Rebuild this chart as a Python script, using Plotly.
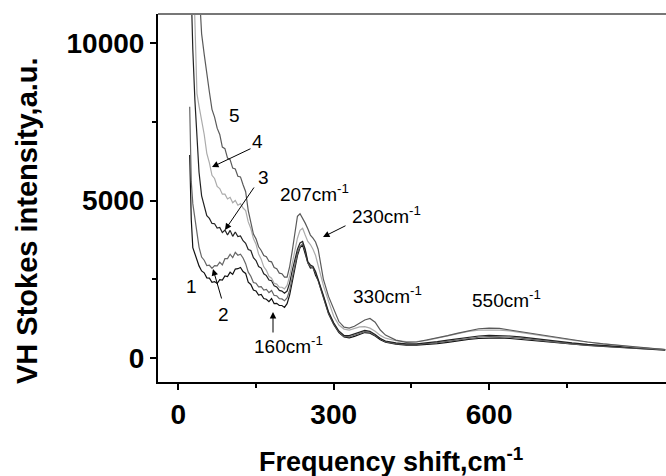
import plotly.graph_objects as go

# Raman shift grid (cm-1) shared by all spectra
shift = [22, 25, 28, 32, 36,
         40, 45, 50, 55, 60, 65, 70, 75, 80, 85, 90, 95, 100, 105, 110, 115, 120, 125, 130, 135, 140,
         145, 150, 155, 160, 165, 170, 175, 180, 185, 190, 195, 200, 205, 210, 215, 220, 225, 230,
         235, 240, 245, 250, 255, 260, 265, 270, 275, 280,
         290, 300, 310, 320, 330, 340, 350, 360, 370, 380, 390, 400,
         420, 440, 460, 480, 500, 520, 540, 560, 580, 600, 620, 640, 660, 680, 700,
         730, 760, 790, 820, 850, 880, 910, 940]

curve1 = [6450, 4400, 3500, 3280, 3100,
          2920, 2760, 2700, 2540, 2530, 2400, 2420, 2360, 2480, 2470, 2600, 2580, 2720, 2650, 2820, 2830, 2870, 2740, 2680, 2400, 2330,
          2150, 2120, 1990, 2010, 1880, 1860, 1780, 1880, 1720, 1730, 1660, 1660, 1600, 1720, 2000, 2450, 2900, 3250,
          3500, 3580, 3300, 3020, 2850, 2870, 2620, 2460, 2180, 1920,
          1400, 1060, 800, 660, 630, 680, 750, 800, 780, 690, 570, 490,
          430, 400, 400, 420, 450, 490, 540, 580, 610, 630, 630, 610, 580, 550, 510,
          460, 420, 390, 360, 330, 300, 270, 240]

curve2 = [7980, 5600, 4900, 4380, 3900,
          3520, 3200, 3100, 2930, 2940, 2840, 2930, 2920, 3040, 2950, 3150, 3150, 3290, 3180, 3350, 3260, 3290, 3170, 2990, 2720, 2590,
          2390, 2370, 2250, 2260, 2150, 2170, 2070, 2140, 1980, 1970, 1880, 1870, 1810, 1900, 2150, 2580, 3000, 3330,
          3540, 3620, 3400, 3020, 2900, 2860, 2700, 2470, 2230, 1950,
          1420, 1080, 820, 680, 660, 710, 780, 830, 810, 710, 590, 510,
          450, 420, 420, 440, 480, 520, 570, 610, 650, 670, 670, 650, 620, 580, 540,
          490, 440, 400, 370, 340, 305, 275, 245]

curve3 = [13500, 11500, 9800, 8200, 7000,
          5900, 5150, 4800, 4520, 4430, 4270, 4260, 4120, 4140, 3980, 4060, 3900, 4050, 3860, 4000, 3850, 3870, 3720, 3640, 3440, 3410,
          3180, 3090, 2900, 2850, 2670, 2610, 2470, 2450, 2290, 2250, 2140, 2120, 2050, 2120, 2380, 2780, 3150, 3450,
          3650, 3700, 3450, 3060, 2950, 2900, 2740, 2500, 2250, 1990,
          1460, 1110, 850, 710, 700, 760, 830, 870, 840, 740, 610, 530,
          470, 440, 440, 470, 510, 560, 610, 660, 690, 710, 710, 690, 660, 620, 580,
          520, 470, 425, 390, 350, 315, 285, 255]

curve4 = [16500, 14800, 13000, 10900, 8400,
          8000, 7550, 7100, 6500, 6200, 5800, 5700, 5450, 5380, 5200, 5200, 5050, 5100, 4930, 5000, 4850, 4900, 4760, 4680, 4320, 4110,
          3790, 3610, 3300, 3130, 2890, 2780, 2590, 2530, 2370, 2340, 2240, 2240, 2190, 2300, 2600, 3000, 3450, 3800,
          4050, 4120, 3900, 3700, 3600, 3450, 3250, 2950, 2620, 2300,
          1800, 1320, 1040, 910, 880, 930, 980, 990, 940, 840, 710, 620,
          540, 510, 510, 550, 620, 700, 780, 840, 880, 890, 880, 850, 800, 750, 700,
          630, 560, 500, 440, 390, 340, 300, 260]

curve5 = [22000, 20000, 18000, 16000, 14000,
          11800, 10300, 9650, 8950, 8450, 7900, 7650, 7300, 7100, 6700, 6650, 6350, 6300, 6030, 6000, 5770, 5750, 5500, 5280, 4680, 4320,
          3930, 3780, 3530, 3410, 3250, 3210, 3070, 3050, 2870, 2830, 2690, 2670, 2560, 2560, 2900, 3400, 4000, 4500,
          4580, 4450, 4280, 4100, 3900, 3800, 3680, 3450, 3000, 2500,
          1950, 1550, 1150, 970, 940, 1000, 1100, 1200, 1250, 1130, 880, 720,
          560, 490, 500, 560, 630, 700, 780, 860, 920, 940, 930, 880, 830, 780, 720,
          640, 570, 500, 440, 390, 340, 300, 260]

series = [curve1, curve2, curve3, curve4, curve5]
colors = ["#111111", "#666666", "#222222", "#ababab", "#5a5a5a"]

fig = go.Figure()
for vals, col in zip(series, colors):
    fig.add_trace(go.Scatter(x=shift, y=vals, mode="lines",
                             line=dict(color=col, width=1.2), showlegend=False))

W, H = 666, 476
L, R, T, B = 158, 0, 14, 94


# pixel position -> paper coords
def P(px, py):
    return (px - L) / (W - L - R), (H - B - py) / (H - T - B)


font = "Liberation Sans, Arial, sans-serif"
ann = []
labels = [("5", 234, 115), ("4", 257, 141), ("3", 263, 177), ("1", 191, 286), ("2", 223, 314),
          ("207cm<sup>-1</sup>", 314, 193), ("230cm<sup>-1</sup>", 386, 215),
          ("330cm<sup>-1</sup>", 387, 295), ("550cm<sup>-1</sup>", 506, 299),
          ("160cm<sup>-1</sup>", 288, 345)]
for txt, px, py in labels:
    x, y = P(px, py)
    ann.append(dict(text=txt, x=x, y=y, xref="paper", yref="paper", showarrow=False,
                    xanchor="center", yanchor="middle",
                    font=dict(family=font, size=19, color="black")))

# arrows: tail -> tip in pixels
arrows = [((252, 148), (212, 167)), ((255, 186), (225, 230)), ((222, 300), (213, 269)),
          ((347, 225), (323, 237)), ((273, 334), (273, 312))]
for (tx, ty), (hx, hy) in arrows:
    x, y = P(hx, hy)
    ann.append(dict(text="", x=x, y=y, xref="paper", yref="paper", showarrow=True,
                    ax=tx - hx, ay=ty - hy, arrowhead=2, arrowsize=1.3, arrowwidth=1,
                    arrowcolor="black", standoff=0))

# axis titles
x, y = P(391, 460)
ann.append(dict(text="Frequency shift,cm<sup>-1</sup>", x=x, y=y, xref="paper", yref="paper",
                showarrow=False, xanchor="center", yanchor="middle",
                font=dict(family=font, size=27, color="black", weight="bold")))
x, y = P(27, 221)
ann.append(dict(text="VH Stokes intensity,a.u.", x=x, y=y, xref="paper", yref="paper",
                showarrow=False, xanchor="center", yanchor="middle", textangle=-90,
                font=dict(family=font, size=29, color="black", weight="bold")))

fig.update_layout(
    width=W, height=H,
    margin=dict(l=L, r=R, t=T, b=B),
    paper_bgcolor="white", plot_bgcolor="white",
    annotations=ann,
    shapes=[dict(type="line", xref="paper", yref="paper", x0=0, x1=1, y0=1, y1=1,
                 line=dict(color="#777777", width=2))],
)
tickfont = dict(family=font, size=28, color="black", weight="bold")
fig.update_xaxes(range=[-39.2, 941.5], tickvals=[0, 300, 600], ticktext=["0", "300", "600"],
                 ticks="outside", ticklen=6, tickwidth=1.5, tickcolor="black",
                 showline=True, linecolor="black", linewidth=2,
                 showgrid=False, zeroline=False, tickfont=tickfont,
                 minor=dict(tickvals=[150, 450, 750], ticks="outside", ticklen=4, tickcolor="black"))
fig.update_yaxes(range=[-773, 10932], tickvals=[0, 5000, 10000], ticktext=["0", "5000", "10000"],
                 ticks="outside", ticklen=6, tickwidth=1.5, tickcolor="black",
                 showline=True, linecolor="black", linewidth=2,
                 showgrid=False, zeroline=False, tickfont=tickfont,
                 minor=dict(tickvals=[2500, 7500], ticks="outside", ticklen=4, tickcolor="black"))

fig.write_html("out.html", config={"displayModeBar": False},
               post_script="document.body.style.margin='0';")
